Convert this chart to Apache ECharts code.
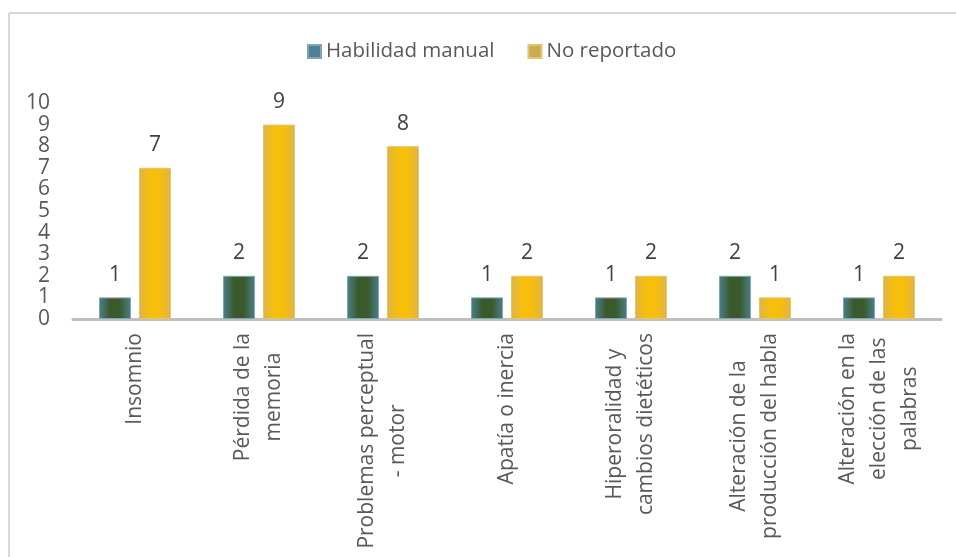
<!DOCTYPE html>
<html>
<head>
<meta charset="utf-8">
<script src="https://cdn.jsdelivr.net/npm/echarts@6/dist/echarts.min.js"></script>
<style>
  html, body { margin: 0; padding: 0; background: #fff; }
  #chart { width: 956px; height: 557px; }
</style>
</head>
<body>
<div id="chart"></div>
<script>
// Categories (line breaks as they wrap under the axis)
const categories = [
  'Insomnio',
  'Pérdida de la\nmemoria',
  'Problemas perceptual\n- motor',
  'Apatía o inercia',
  'Hiperoralidad y\ncambios dietéticos',
  'Alteración de la\nproducción del habla',
  'Alteración en la\nelección de las\npalabras'
];
const seriesNames = ['Habilidad manual', 'No reportado'];
const habilidadManual = [1, 2, 2, 1, 1, 2, 1];
const noReportado = [7, 9, 8, 2, 2, 1, 2];
const yTicks = [0, 10, 1]; // min, max, step

const FONT = '"Open Sans", "Noto Sans", sans-serif';
const TEXT = '#595959';

function barFill(edge, mid) {
  return {
    type: 'linear', x: 0, y: 0, x2: 1, y2: 0,
    colorStops: [
      { offset: 0, color: edge },
      { offset: 0.35, color: mid },
      { offset: 0.65, color: mid },
      { offset: 1, color: edge }
    ]
  };
}

const chart = echarts.init(document.getElementById('chart'), null, { renderer: 'canvas' });

chart.setOption({
  backgroundColor: '#ffffff',
  animation: false,
  textStyle: { fontFamily: FONT },
  graphic: [
    { type: 'line', shape: { x1: 9, y1: 13, x2: 956, y2: 13 }, style: { stroke: '#d9d9d9', lineWidth: 2 } },
    { type: 'line', shape: { x1: 9, y1: 13, x2: 9, y2: 557 }, style: { stroke: '#d9d9d9', lineWidth: 2 } }
  ],
  legend: {
    top: 36,
    left: 302,
    itemWidth: 13,
    itemHeight: 13,
    itemGap: 33,
    textStyle: { fontSize: 20.5, color: TEXT, fontFamily: FONT },
    data: [
      { name: seriesNames[0], icon: 'rect', itemStyle: { color: '#4e8196' } },
      { name: seriesNames[1], icon: 'rect', itemStyle: { color: '#c8aa58' } }
    ]
  },
  grid: { left: 73, right: 15, top: 103, bottom: 238, containLabel: false },
  xAxis: {
    type: 'category',
    data: categories,
    axisLine: { lineStyle: { color: '#bfbfbf', width: 3 } },
    axisTick: { show: false },
    axisLabel: {
      rotate: 90,
      interval: 0,
      margin: 14,
      formatter: v => v.split('\n').map(s => '{c|' + s + '}').join('\n'),
      rich: {
        c: { align: 'center', fontSize: 21, lineHeight: 31, color: TEXT, fontFamily: FONT }
      }
    }
  },
  yAxis: {
    type: 'value',
    min: yTicks[0],
    max: yTicks[1],
    interval: yTicks[2],
    axisLine: { show: false },
    axisTick: { show: false },
    splitLine: { show: false },
    axisLabel: { fontSize: 21, color: TEXT, margin: 23, fontFamily: FONT }
  },
  series: [
    {
      name: seriesNames[0],
      type: 'bar',
      data: habilidadManual,
      barWidth: 32,
      barGap: '25%',
      itemStyle: { color: barFill('#4b7f8e', '#3a5a2b'), borderColor: '#7fa6b6', borderWidth: 1 },
      label: { show: true, position: 'top', distance: 12, fontSize: 21, color: '#404040', fontFamily: FONT }
    },
    {
      name: seriesNames[1],
      type: 'bar',
      data: noReportado,
      barWidth: 32,
      barGap: '25%',
      itemStyle: { color: barFill('#dcb44a', '#f7bf0b'), borderColor: '#e6c46a', borderWidth: 1 },
      label: { show: true, position: 'top', distance: 12, fontSize: 21, color: '#404040', fontFamily: FONT }
    }
  ]
});
</script>
</body>
</html>
